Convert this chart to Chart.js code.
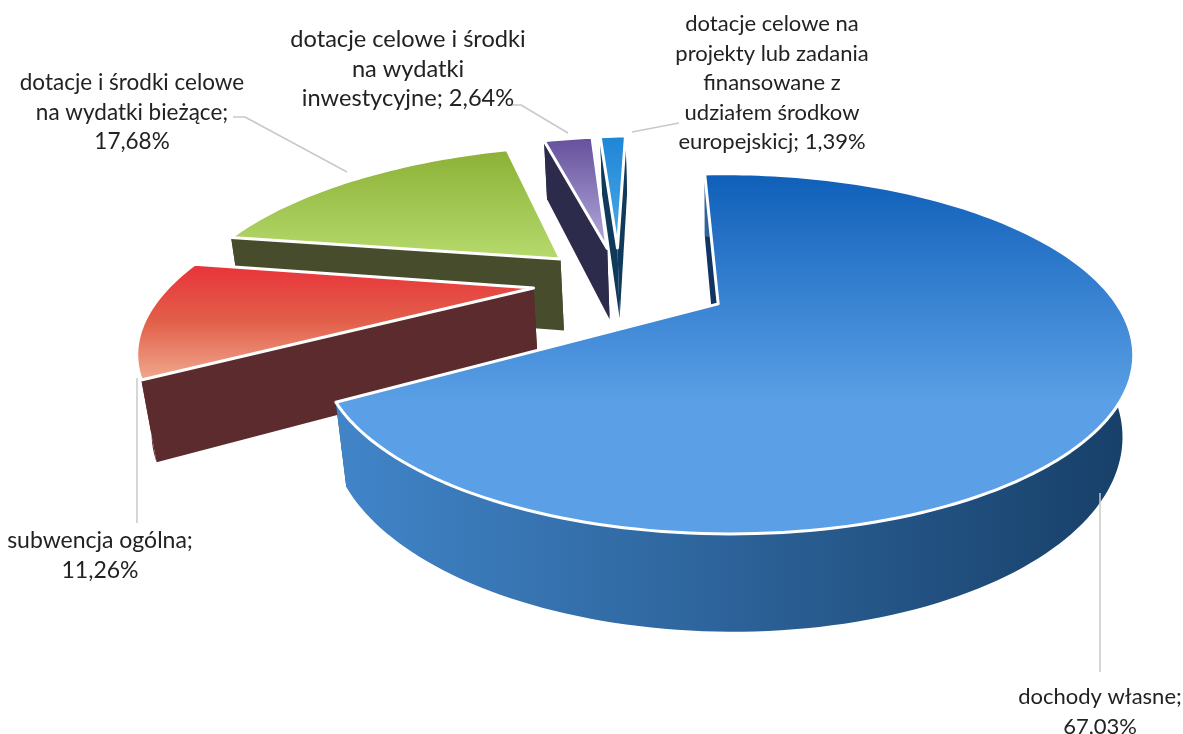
<!DOCTYPE html>
<html lang="pl">
<head>
<meta charset="utf-8">
<title>Struktura dochodów</title>
<script src="https://cdn.jsdelivr.net/npm/chart.js@4"></script>
<style>
    html, body { margin: 0; padding: 0; background: #fff; }
    #chart { display: block; }
</style>
</head>
<body>
<canvas id="chart" width="1183" height="734"></canvas>
<script>
// chart values
const categories = [
    'dochody własne',
    'subwencja ogólna',
    'dotacje i środki celowe na wydatki bieżące',
    'dotacje celowe i środki na wydatki inwestycyjne',
    'dotacje celowe na projekty lub zadania finansowane z udziałem środkow europejskicj'
];
const shares = [67.03, 11.26, 17.68, 2.64, 1.39];
const explode = [96, 73, 74, 74, 74];
// the back slices come out a little larger in the tilted view
const rimScale = [1, 1, 1.015, 1.04, 1.04];

// colours: top face gradient stops, rim and cut wall
const topColors = [
    ['#0f5fb9', '#5ba0e6'],
    ['#e8333a', '#e2604a', '#f0a88e'],
    ['#8cb136', '#b6da6c'],
    ['#65509c', '#b4acdc'],
    ['#1f86d6', '#4aaaea']
];
const rimColors = [
    ['#4185c9', '#173f68'],
    ['#5c2b2e', '#5c2b2e'],
    ['#474c2d', '#474c2d'],
    ['#2d2b4c', '#2d2b4c'],
    ['#0f3a5c', '#0f3a5c']
];
const wallColors = ['#0f3560', '#5c2b2e', '#474c2d', '#2d2b4c', '#0f3a5c'];

// label text, one entry per line, and where it goes
const labelLines = [
    ['dochody własne;', '67,03%'],
    ['subwencja ogólna;', '11,26%'],
    ['dotacje i środki celowe', 'na wydatki bieżące;', '17,68%'],
    ['dotacje celowe i środki', 'na wydatki', 'inwestycyjne; 2,64%'],
    ['dotacje celowe na', 'projekty lub zadania', 'finansowane z', 'udziałem środkow', 'europejskicj; 1,39%']
];
const labelAnchors = [[1100, 704], [100, 548], [132, 90], [408, 47], [772, 31]];
const labelSizes = [22, 23, 22.5, 23.6, 22];
const labelLeading = 29.6;

const leaderLines = [
    [[1100, 493], [1100, 672]],
    [[137, 378], [137, 523]],
    [[233, 117], [245, 117], [347, 172]],
    [[509, 105], [521, 105], [568, 133]],
    [[632, 132], [679, 123]]
];

// back slices first so the front ones cover them
const paintOrder = [3, 4, 2, 1, 0];

// camera for the tilted pie, u/v are in pie radii, h=1 is the underside
const cam = { x: 715, y: 306, W: 392, A: 167.4, B: 0.278, D: 0.02, C: 0.025, G: 79, shiftU: -0.257, shiftV: -0.155 };

function project(u, v, h) {
    const w = 1 - cam.B * v - cam.D * u + cam.C * h;
    return { x: cam.x + cam.W * u / w, y: cam.y + (cam.A * v + cam.G * h) / w };
}

function poly(ctx, pts) {
    ctx.beginPath();
    pts.forEach((p, i) => i ? ctx.lineTo(p.x, p.y) : ctx.moveTo(p.x, p.y));
    ctx.closePath();
}

function bounds(pts) {
    const xs = pts.map(p => p.x), ys = pts.map(p => p.y);
    return { x0: Math.min(...xs), x1: Math.max(...xs), y0: Math.min(...ys), y1: Math.max(...ys) };
}

const pie3d = {
    id: 'pie3d',
    beforeDatasetsDraw(chart) {
        const ctx = chart.ctx;
        const arcs = chart.getDatasetMeta(0).data;
        paintOrder.forEach(i => {
            const arc = arcs[i];
            const { startAngle, endAngle, outerRadius } = arc.getProps(['startAngle', 'endAngle', 'outerRadius'], true);
            const mid = (startAngle + endAngle) / 2;
            const off = arc.options.offset / outerRadius;
            const ou = Math.cos(mid) * off + cam.shiftU;
            const ov = Math.sin(mid) * off + cam.shiftV;
            const r = rimScale[i];

            const steps = Math.max(4, Math.ceil((endAngle - startAngle) * 40));
            const rimTop = [], rimBottom = [];
            for (let s = 0; s <= steps; s++) {
                const a = startAngle + (endAngle - startAngle) * s / steps;
                rimTop.push(project(ou + r * Math.cos(a), ov + r * Math.sin(a), 0));
                rimBottom.push(project(ou + r * Math.cos(a), ov + r * Math.sin(a), 1));
            }
            const apexTop = project(ou, ov, 0);
            const apexBottom = project(ou, ov, 1);

            // cut walls
            ctx.fillStyle = wallColors[i];
            poly(ctx, [apexTop, rimTop[0], rimBottom[0], apexBottom]);
            ctx.fill();
            poly(ctx, [apexTop, rimTop[steps], rimBottom[steps], apexBottom]);
            ctx.fill();

            // outer rim
            const rimPts = rimTop.concat(rimBottom.slice().reverse());
            const rb = bounds(rimPts);
            const rimGrad = ctx.createLinearGradient(rb.x0, 0, rb.x1, 0);
            rimGrad.addColorStop(0, rimColors[i][0]);
            rimGrad.addColorStop(1, rimColors[i][1]);
            ctx.fillStyle = rimGrad;
            poly(ctx, rimPts);
            ctx.fill();

            // top face
            const topPts = [apexTop].concat(rimTop);
            const tb = bounds(topPts);
            const topGrad = ctx.createLinearGradient(0, tb.y0, 0, i === 0 ? tb.y0 + 230 : tb.y1);
            topColors[i].forEach((c, n) => topGrad.addColorStop(n / (topColors[i].length - 1), c));
            ctx.fillStyle = topGrad;
            poly(ctx, topPts);
            ctx.fill();
            ctx.strokeStyle = '#fff';
            ctx.lineWidth = 3;
            ctx.lineJoin = 'round';
            ctx.stroke();
        });
        return false; // the flat arcs are replaced by the tilted ones above
    },
    afterDraw(chart) {
        const ctx = chart.ctx;
        ctx.save();
        ctx.strokeStyle = '#c9c9c9';
        ctx.lineWidth = 1.5;
        leaderLines.forEach(line => {
            ctx.beginPath();
            line.forEach((p, i) => i ? ctx.lineTo(p[0], p[1]) : ctx.moveTo(p[0], p[1]));
            ctx.stroke();
        });
        ctx.fillStyle = '#222';
        ctx.textAlign = 'center';
        labelLines.forEach((lines, i) => {
            ctx.font = labelSizes[i] + 'px Lato';
            lines.forEach((text, n) => {
                ctx.fillText(text, labelAnchors[i][0], labelAnchors[i][1] + n * labelLeading);
            });
        });
        ctx.restore();
    }
};

new Chart(document.getElementById('chart').getContext('2d'), {
    type: 'pie',
    data: {
        labels: categories,
        datasets: [{
            data: shares,
            offset: explode,
            backgroundColor: topColors.map(c => c[c.length - 1]),
            borderWidth: 0
        }]
    },
    options: {
        responsive: false,
        animation: false,
        rotation: -2.4,
        plugins: { legend: { display: false }, tooltip: { enabled: false } }
    },
    plugins: [pie3d]
});
</script>
</body>
</html>
